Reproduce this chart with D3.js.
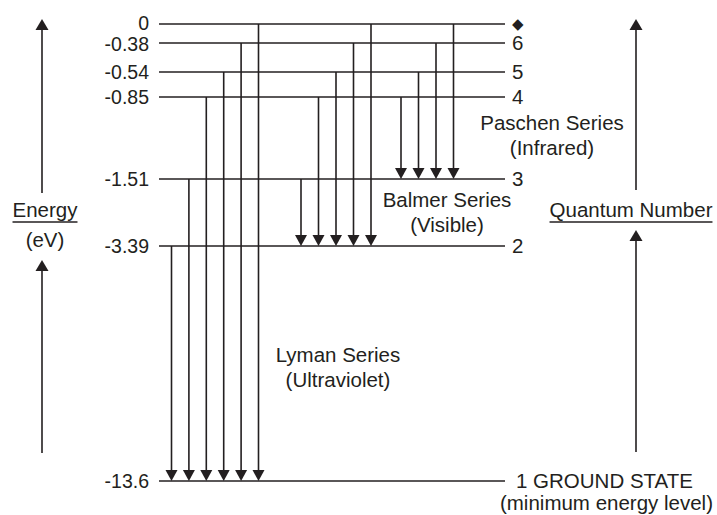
<!DOCTYPE html>
<meta charset="utf-8">
<style>
  body { margin: 0; background: #fff; }
  text { font-family: "Liberation Sans", Arial, sans-serif; fill: #231f20; font-size: 20.5px; }
</style>
<body>
<script src="https://cdn.jsdelivr.net/npm/d3@7"></script>
<script>

    var width = 717,
        height = 515;

    // energy levels of hydrogen
    var levelN = ["1", "2", "3", "4", "5", "6", "inf"];
    var levelEnergy = [-13.6, -3.39, -1.51, -0.85, -0.54, -0.38, 0];
    var energyLabels = ["-13.6", "-3.39", "-1.51", "-0.85", "-0.54", "-0.38", "0"];
    var quantumLabels = ["1 GROUND STATE", "2", "3", "4", "5", "6", "\u25C6"];

    // transitions, grouped by series (upper levels, lower level)
    var seriesNames = ["Lyman Series", "Balmer Series", "Paschen Series"];
    var seriesBands = ["(Ultraviolet)", "(Visible)", "(Infrared)"];
    var seriesTo = ["1", "2", "3"];
    var seriesFrom = [
        ["2", "3", "4", "5", "6", "inf"],
        ["3", "4", "5", "6", "inf"],
        ["4", "5", "6", "inf"]
    ];

    var ink = "#231f20";

    var svg = d3.select("body").append("svg")
            .attr("width", width)
            .attr("height", height);

    // schematic (not to scale) energy axis
    var y = d3.scaleLinear()
            .domain(levelEnergy)
            .range([481, 246, 179, 97, 72, 43, 24]);

    var energyOf = d3.scaleOrdinal().domain(levelN).range(levelEnergy);

    var xLevel = [159, 505];

    // one x scale per series
    var xSeries = [
        d3.scalePoint().domain(seriesFrom[0]).range([171.5, 258.5]),
        d3.scalePoint().domain(seriesFrom[1]).range([301, 371]),
        d3.scalePoint().domain(seriesFrom[2]).range([401, 453.5])
    ];

    // level lines
    svg.selectAll(".level")
            .data(levelEnergy)
            .enter().append("line")
            .attr("x1", xLevel[0]).attr("x2", xLevel[1])
            .attr("y1", d => y(d)).attr("y2", d => y(d))
            .attr("stroke", ink).attr("stroke-width", 1.6);

    // energy values on the left (top two sit very close, nudge apart)
    svg.selectAll(".elabel")
            .data(levelEnergy)
            .enter().append("text")
            .attr("x", 149)
            .attr("y", (d, i) => y(d) + (i == 6 ? -1.5 : i == 5 ? 1 : 0))
            .attr("dy", "0.36em")
            .attr("text-anchor", "end")
            .style("font-size", "19.5px")
            .text((d, i) => energyLabels[i]);

    // quantum numbers on the right
    svg.selectAll(".qlabel")
            .data(levelEnergy)
            .enter().append("text")
            .attr("x", (d, i) => i == 0 ? 516 : 512)
            .attr("y", d => y(d))
            .attr("dy", (d, i) => i == 6 ? "0.3em" : "0.36em")
            .style("font-size", (d, i) => i == 6 ? "15px" : null)
            .text((d, i) => quantumLabels[i]);

    svg.append("text")
            .attr("x", 713).attr("y", 503).attr("dy", "0.36em")
            .attr("text-anchor", "end")
            .text("(minimum energy level)");

    // transition arrows
    var arrowH = 11, arrowW = 12;
    seriesFrom.forEach(function(froms, s) {
        var yTo = y(energyOf(seriesTo[s]));
        var g = svg.append("g");
        froms.forEach(function(f) {
            var x = xSeries[s](f);
            g.append("line")
                    .attr("x1", x).attr("x2", x)
                    .attr("y1", y(energyOf(f))).attr("y2", yTo - arrowH + 1)
                    .attr("stroke", ink).attr("stroke-width", 1.6);
            g.append("path")
                    .attr("d", "M" + (x - arrowW / 2) + "," + (yTo - arrowH) +
                            "L" + (x + arrowW / 2) + "," + (yTo - arrowH) +
                            "L" + x + "," + yTo + "Z")
                    .attr("fill", ink);
        });
    });

    // series captions
    var captionPos = [[338, 355], [447, 200], [552, 123]];
    seriesNames.forEach(function(name, s) {
        var t = svg.append("text")
                .attr("text-anchor", "middle");
        t.append("tspan").attr("x", captionPos[s][0]).attr("y", captionPos[s][1])
                .attr("dy", "0.36em").text(name);
        t.append("tspan").attr("x", captionPos[s][0]).attr("y", captionPos[s][1] + 25)
                .attr("dy", "0.36em").text(seriesBands[s]);
    });

    // side axis arrows
    function upArrow(x, yTop, yBottom) {
        svg.append("line")
                .attr("x1", x).attr("x2", x)
                .attr("y1", yTop + 8).attr("y2", yBottom)
                .attr("stroke", ink).attr("stroke-width", 1.6);
        svg.append("path")
                .attr("d", "M" + (x - 6.5) + "," + (yTop + 11) + "L" + (x + 6.5) + "," + (yTop + 11) +
                        "L" + x + "," + yTop + "Z")
                .attr("fill", ink);
    }

    upArrow(42, 19, 193);
    upArrow(42, 260, 453);
    upArrow(636, 19, 190);
    upArrow(636, 230, 452);

    function underlined(txt, x, yy) {
        var t = svg.append("text")
                .attr("x", x).attr("y", yy).attr("dy", "0.36em")
                .attr("text-anchor", "middle")
                .text(txt);
        var w = t.node().getComputedTextLength();
        svg.append("line")
                .attr("x1", x - w / 2).attr("x2", x + w / 2)
                .attr("y1", yy + 12).attr("y2", yy + 12)
                .attr("stroke", ink).attr("stroke-width", 1.3);
    }

    underlined("Energy", 45, 210);
    svg.append("text")
            .attr("x", 45).attr("y", 240).attr("dy", "0.36em")
            .attr("text-anchor", "middle")
            .text("(eV)");
    underlined("Quantum Number", 631, 210);

</script>
